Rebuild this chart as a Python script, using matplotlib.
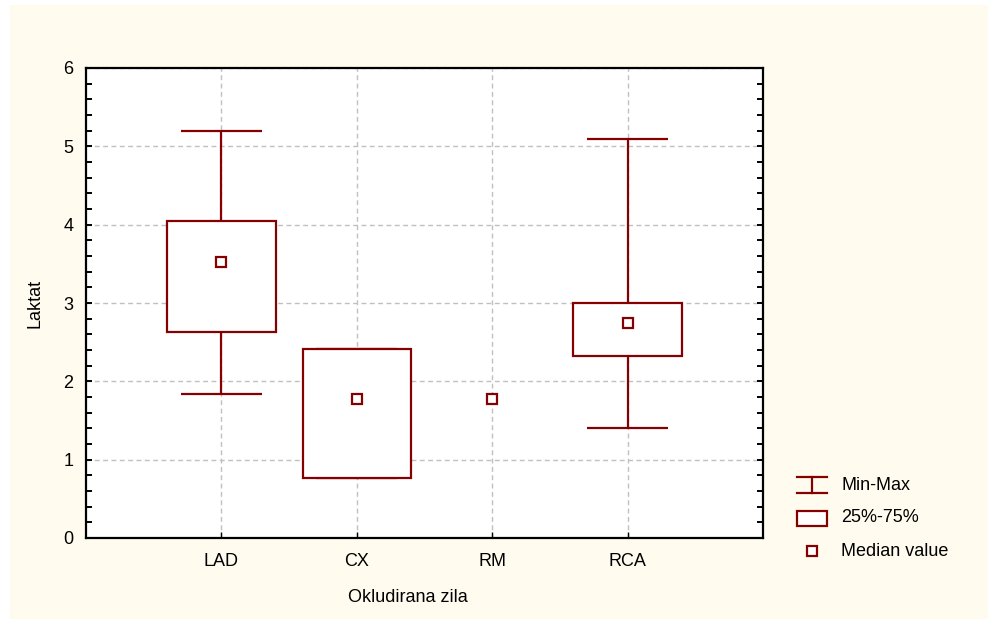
import numpy as np
import matplotlib
matplotlib.use('Agg')
import matplotlib.pyplot as plt
import matplotlib.ticker as ticker
from matplotlib.patches import Rectangle

plt.rcParams['font.family'] = ['Liberation Sans', 'DejaVu Sans']

categories = ['LAD', 'CX', 'RM', 'RCA']
medians = [3.52, 1.77, 1.77, 2.74]
q1 = [2.63, 0.77, np.nan, 2.32]
q3 = [4.05, 2.41, np.nan, 3.00]
mins = [1.84, 0.77, np.nan, 1.40]
maxs = [5.20, 2.41, np.nan, 5.09]

legend_labels = ['Min-Max', '25%-75%', 'Median value']

RED = '#850000'
BG = '#FFFCEF'
W, H = 988, 619
FS = 13

fig = plt.figure(figsize=(W / 100, H / 100), dpi=100)
fig.patch.set_facecolor('white')
fig.patches.append(Rectangle((10 / W, 0), 1, 1 - 5 / H, transform=fig.transFigure,
                             facecolor=BG, edgecolor='none', zorder=-10))

ax = fig.add_axes([86 / W, 1 - 538 / H, (763 - 86) / W, (538 - 68) / H])
ax.set_facecolor('white')

box_w = 0.8
cap_w = 0.6
pos = np.arange(1, len(categories) + 1)

for x, lo, a, b, hi, med in zip(pos, mins, q1, q3, maxs, medians):
    if not np.isnan(a):
        # whiskers and caps
        ax.vlines(x, b, hi, color=RED, lw=1.6, zorder=3)
        ax.vlines(x, lo, a, color=RED, lw=1.6, zorder=3)
        ax.hlines([lo, hi], x - cap_w / 2, x + cap_w / 2, color=RED, lw=1.6, zorder=3)
        # box
        ax.add_patch(Rectangle((x - box_w / 2, a), box_w, b - a, facecolor='white',
                               edgecolor=RED, lw=1.6, zorder=4))
    ax.plot(x, med, marker='s', ms=7, mfc='white', mec=RED, mew=1.6, ls='none', zorder=5)

ax.set_xlim(0, 5)
ax.set_ylim(0, 6)
ax.set_xticks(pos)
ax.set_xticklabels(categories)
ax.yaxis.set_major_locator(ticker.MultipleLocator(1))
ax.yaxis.set_minor_locator(ticker.MultipleLocator(0.2))

ax.grid(True, which='major', color='#c0c0c0', lw=1, ls=(0, (3.5, 2.5)))
ax.set_axisbelow(True)

for s in ax.spines.values():
    s.set_linewidth(1.6)
    s.set_color('black')

ax.tick_params(axis='y', which='both', direction='in', left=True, right=True,
               length=4, width=1.4, labelsize=FS, pad=9)
ax.tick_params(axis='x', which='both', direction='in', bottom=True, top=False,
               length=4, width=1.0, labelsize=FS, pad=11)

ax.set_ylabel('Laktat', fontsize=FS)
ax.set_xlabel('Okludirana zila', fontsize=FS)
ax.yaxis.set_label_coords((35 - 86) / 677, 0.5)
ax.xaxis.set_label_coords((408 - 86) / 677, (538 - 598) / 470)
ax.xaxis.label.set_va('center')
ax.yaxis.label.set_va('center')

# legend drawn in pixel space
lg = fig.add_axes([0, 0, 1, 1], facecolor='none')
lg.set_xlim(0, W)
lg.set_ylim(H, 0)
lg.axis('off')

ys = [485, 518, 551]
# Min-Max icon
lg.plot([797, 827], [477, 477], color=RED, lw=1.6)
lg.plot([797, 827], [493, 493], color=RED, lw=1.6)
lg.plot([812, 812], [477, 493], color=RED, lw=1.6)
# 25-75 icon
lg.add_patch(Rectangle((797, 511), 30, 15, facecolor='white', edgecolor=RED, lw=1.6))
# median icon
lg.plot(812, 551, marker='s', ms=7, mfc='white', mec=RED, mew=1.6, ls='none')
for y, t in zip(ys, legend_labels):
    lg.text(841, y, t, fontsize=FS, va='center', ha='left')

fig.savefig('out.png', dpi=100, facecolor=fig.get_facecolor())
